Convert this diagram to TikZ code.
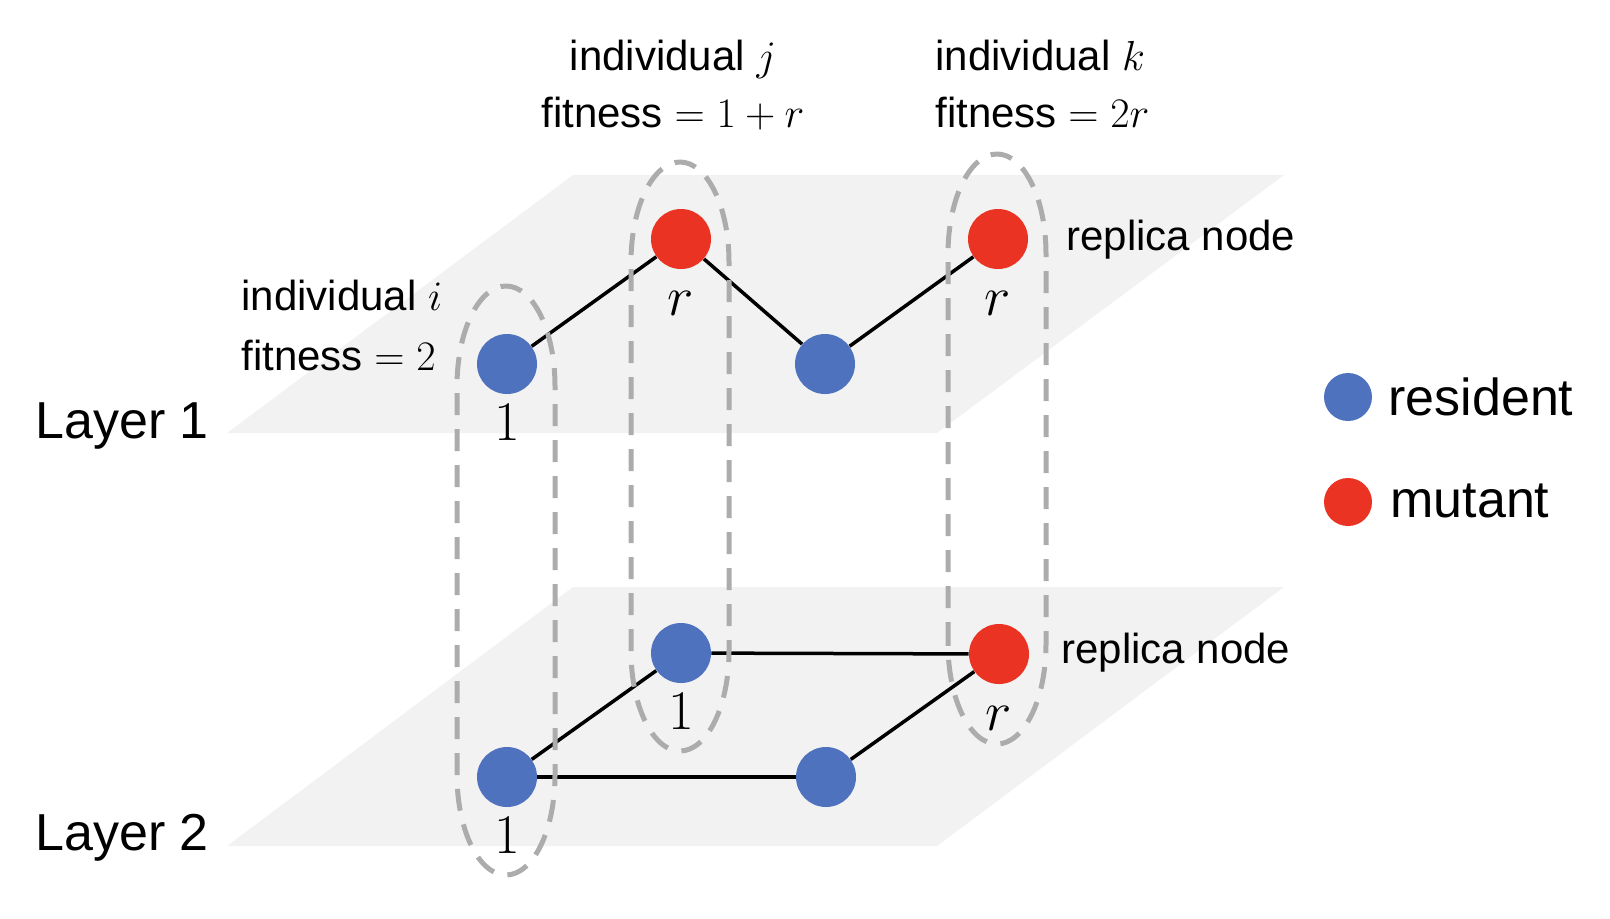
\RequirePackage{fix-cm}
\documentclass[tikz,border=0pt]{standalone}
\usepackage[no-math]{fontspec}
\setmainfont{Liberation Sans}
\usepackage{xcolor}
\definecolor{resBlue}{RGB}{79,114,190}
\definecolor{mutRed}{RGB}{234,51,35}
\definecolor{planeGray}{RGB}{242,242,242}
\definecolor{loopGray}{RGB}{172,172,172}
\usetikzlibrary{positioning}

\begin{document}
\begin{tikzpicture}[
    x=0.5pt, y=-0.5pt,
    plane/.style={
        fill=planeGray, draw=none
    },
    edge/.style={
        draw=black, line width=1.75pt
    },
    resident/.style={
        circle, fill=resBlue, minimum size=30pt, inner sep=0pt
    },
    mutant/.style={
        circle, fill=mutRed, minimum size=30pt, inner sep=0pt
    },
    replica/.style={
        draw=loopGray, line width=2.5pt, dash pattern=on 11pt off 7pt
    },
    valLabel/.style={
        font=\fontsize{28}{30}\selectfont, inner sep=0pt,
        text height=18pt, text depth=0pt
    },
    infoText/.style={
        font=\fontsize{21}{25}\selectfont, inner sep=0pt
    },
    bigText/.style={
        font=\fontsize{26}{30}\selectfont, inner sep=0pt
    }
]
    \useasboundingbox (0,0) rectangle (1610,918);

    % Layer planes
    \fill[plane] (573,175) -- (1284,175) -- (937,433) -- (227,433) -- cycle;
    \fill[plane] (573,587) -- (1284,587) -- (937,846) -- (227,846) -- cycle;
    \node[bigText, anchor=base west] (lay1) at (35,438) {Layer 1};
    \node[bigText, anchor=base west] (lay2) at (35,850) {Layer 2};

    % Nodes of layer 1
    \node[resident] (i1) at (507,364) {};
    \node[mutant] (j1) at (681,239) {};
    \node[resident] (m1) at (825,364) {};
    \node[mutant] (k1) at (998,239) {};

    % Nodes of layer 2
    \node[resident] (i2) at (507,777) {};
    \node[resident] (j2) at (681,653) {};
    \node[resident] (m2) at (826,777) {};
    \node[mutant] (k2) at (999,654) {};

    % Links
    \draw[edge] (i1) -- (j1);
    \draw[edge] (j1) -- (m1);
    \draw[edge] (m1) -- (k1);
    \draw[edge] (i2) -- (j2);
    \draw[edge] (j2) -- (k2);
    \draw[edge] (i2) -- (m2);
    \draw[edge] (m2) -- (k2);

    % Fitness values
    \node[valLabel, below=5pt of i1] (vi1) {$1$};
    \node[valLabel, below=5pt of j1] (vj1) {$r$};
    \node[valLabel, below=5pt of k1] (vk1) {$r$};
    \node[valLabel, below=5pt of i2] (vi2) {$1$};
    \node[valLabel, below=5pt of j2] (vj2) {$1$};
    \node[valLabel, below=5pt of k2] (vk2) {$r$};

    % Individuals across layers
    \draw[replica] (457,775) -- (457,386)
        arc[start angle=180, end angle=360, x radius=49, y radius=100] -- (555,775)
        arc[start angle=0, end angle=180, x radius=49, y radius=100] -- cycle;
    \draw[replica] (631,651) -- (631,262)
        arc[start angle=180, end angle=360, x radius=49, y radius=100] -- (729,651)
        arc[start angle=0, end angle=180, x radius=49, y radius=100] -- cycle;
    \draw[replica] (948,644) -- (948,254)
        arc[start angle=180, end angle=360, x radius=49, y radius=100] -- (1046,644)
        arc[start angle=0, end angle=180, x radius=49, y radius=100] -- cycle;

    % Annotations
    \node[infoText, anchor=base west] (infoI) at (241,310) {individual $i$};
    \node[infoText, anchor=base west] (fitI) at (241,370) {fitness $= 2$};
    \node[infoText, anchor=base] (infoJ) at (673,70) {individual $j$};
    \node[infoText, anchor=base] (fitJ) at (673,127) {fitness $= 1 + r$};
    \node[infoText, anchor=base west] (infoK) at (935,70) {individual $k$};
    \node[infoText, anchor=base west] (fitK) at (935,127) {fitness $= 2r$};
    \node[infoText, anchor=base west] (rep1) at (1066,250) {replica node};
    \node[infoText, anchor=base west] (rep2) at (1061,663) {replica node};

    % Legend
    \node[resident, minimum size=24pt] (legRes) at (1348,397) {};
    \node[mutant, minimum size=24pt] (legMut) at (1348,502) {};
    \node[bigText, anchor=base west] (txtRes) at (1388,415) {resident};
    \node[bigText, anchor=base west] (txtMut) at (1390,517) {mutant};

\end{tikzpicture}
\end{document}
